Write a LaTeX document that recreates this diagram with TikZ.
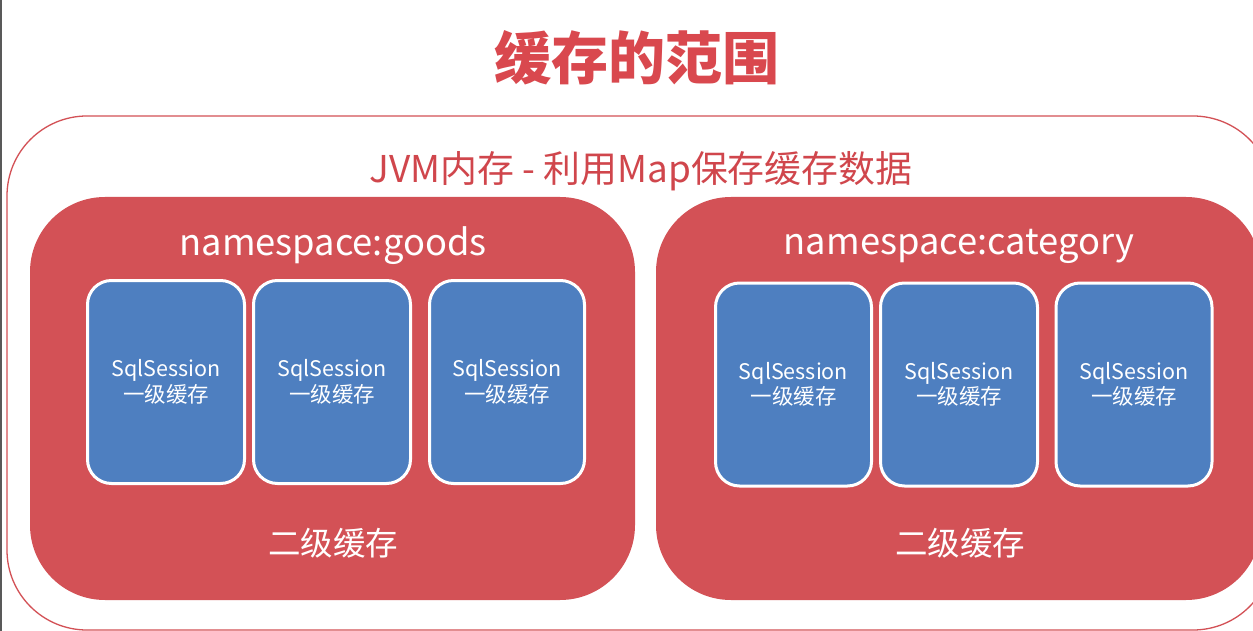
\documentclass[tikz,border=0pt]{standalone}
\usepackage{fontspec}
\setmainfont{Noto Sans CJK SC}
\definecolor{boxred}{RGB}{211,81,86}
\definecolor{titlered}{RGB}{217,72,78}
\definecolor{jvmred}{RGB}{208,70,76}
\definecolor{sessblue}{RGB}{78,127,192}
\tikzset{
  outerbox/.style={draw=boxred, line width=1.3pt, fill=white, rounded corners=80pt},
  nsbox/.style={fill=boxred, rounded corners=75pt},
  sessbox/.style={draw=white, line width=3pt, fill=sessblue, rounded corners=24pt,
    text=white, align=center, inner sep=0pt,
    font=\fontsize{21.5}{25.5}\selectfont},
  nslabel/.style={text=white, inner sep=0pt, font=\fontsize{36.3}{40}\selectfont},
  l2label/.style={text=white, inner sep=0pt, font=\fontsize{32.5}{36}\selectfont},
}
\begin{document}
\begin{tikzpicture}[x=1pt,y=-1pt]
\useasboundingbox (0,0) rectangle (1253,631);
\clip (0,0) rectangle (1253,631);
\fill[white] (0,0) rectangle (1253,631);
\fill[black!65] (0,0) rectangle (2,631);
% title
\node[text=titlered, inner sep=0pt, font=\fontsize{57}{62}\selectfont\bfseries] (title) at (637,58) {缓存的范围};
% outer JVM box
\draw[outerbox] (7,116) rectangle (1273,630);
\node[text=jvmred, inner sep=0pt, font=\fontsize{36.9}{40}\selectfont] (jvm) at (641,171) {JVM内存 - 利用Map保存缓存数据};
% namespace boxes
\fill[nsbox] (30,197) rectangle (635,600);
\fill[nsbox] (656,197) rectangle (1261,600);
\node[nslabel] (ns1) at (333,246) {namespace:goods};
\node[nslabel] (ns2) at (959,246) {namespace:category};
% sqlsession boxes, left
\node[sessbox, minimum width=157pt, minimum height=203pt] (s1) at (166,382) {SqlSession\\一级缓存};
\node[sessbox, minimum width=157pt, minimum height=203pt] (s2) at (332,382) {SqlSession\\一级缓存};
\node[sessbox, minimum width=155pt, minimum height=203pt] (s3) at (507,382) {SqlSession\\一级缓存};
% sqlsession boxes, right
\node[sessbox, minimum width=156pt, minimum height=203pt] (s4) at (793.5,384.5) {SqlSession\\一级缓存};
\node[sessbox, minimum width=157pt, minimum height=203pt] (s5) at (959,384.5) {SqlSession\\一级缓存};
\node[sessbox, minimum width=156pt, minimum height=203pt] (s6) at (1134,384.5) {SqlSession\\一级缓存};
% level-2 labels
\node[l2label] (l2a) at (333,543) {二级缓存};
\node[l2label] (l2b) at (960,543) {二级缓存};
\end{tikzpicture}
\end{document}
